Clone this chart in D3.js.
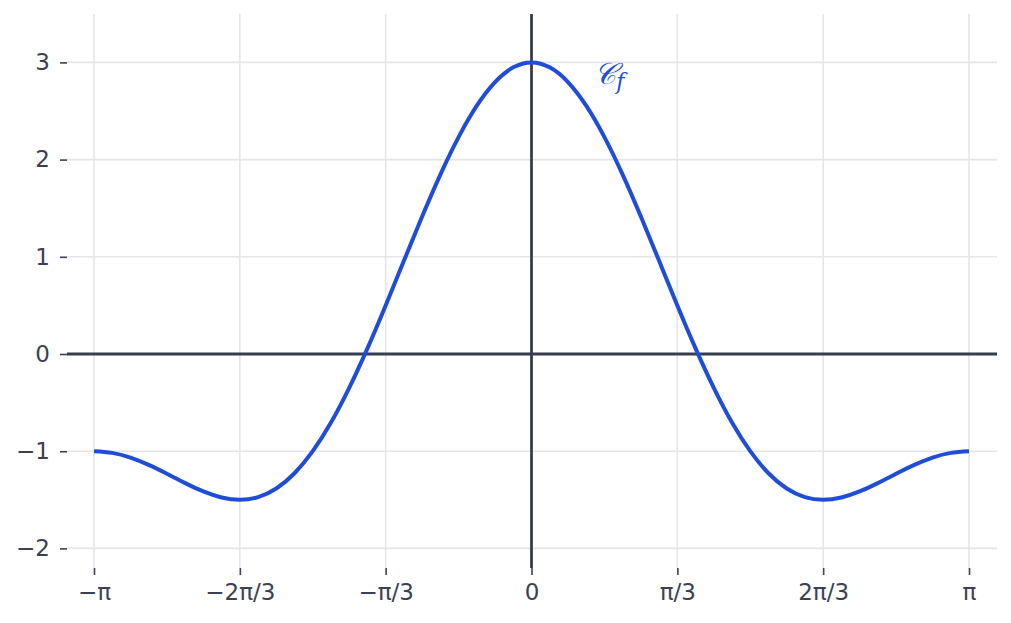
<!DOCTYPE html>
<html>
  <head>
    <meta charset="utf-8">
    <title></title>
    <style>
      body { margin: 0; background: #fff; }
      text { font-family: "DejaVu Sans", sans-serif; }
    </style>
  </head>
  <body>
    <div id="chart"></div>
    <script src="https://d3js.org/d3.v7.min.js"></script>
    <script>
      const width = 1011;
      const height = 623;

      // x tick positions (radians) and their labels
      const xTickValues = [-Math.PI, -2 * Math.PI / 3, -Math.PI / 3, 0, Math.PI / 3, 2 * Math.PI / 3, Math.PI];
      const xTickLabels = ['−π', '−2π/3', '−π/3', '0', 'π/3', '2π/3', 'π'];
      const yTickValues = [-2, -1, 0, 1, 2, 3];

      // curve points
      const curveX = [-3.1416, -3.0107, -2.8798, -2.7489, -2.618, -2.4871, -2.3562, -2.2253, -2.0944, -1.9635, -1.8326, -1.7017,
                      -1.5708, -1.4399, -1.309, -1.1781, -1.0472, -0.9163, -0.7854, -0.6545, -0.5236, -0.3927, -0.2618, -0.1309,
                      0, 0.1309, 0.2618, 0.3927, 0.5236, 0.6545, 0.7854, 0.9163, 1.0472, 1.1781, 1.309, 1.4399,
                      1.5708, 1.7017, 1.8326, 1.9635, 2.0944, 2.2253, 2.3562, 2.4871, 2.618, 2.7489, 2.8798, 3.0107, 3.1416];
      const curveY = [-1, -1.017, -1.066, -1.141, -1.232, -1.328, -1.414, -1.476, -1.5, -1.473, -1.384, -1.227,
                      -1, -0.705, -0.348, 0.058, 0.5, 0.959, 1.414, 1.846, 2.232, 2.555, 2.798, 2.949,
                      3, 2.949, 2.798, 2.555, 2.232, 1.846, 1.414, 0.959, 0.5, 0.058, -0.348, -0.705,
                      -1, -1.227, -1.384, -1.473, -1.5, -1.476, -1.414, -1.328, -1.232, -1.141, -1.066, -1.017, -1];

      const plotLeft = 67, plotRight = 997, plotTop = 14, plotBottom = 568;

      const x = d3.scaleLinear().domain([-3.3355, 3.3427]).range([plotLeft, plotRight]);
      const y = d3.scaleLinear().domain([-2.2016, 3.498]).range([plotBottom, plotTop]);

      const svg = d3.select('#chart').append('svg')
        .attr('width', width)
        .attr('height', height);

      // grid
      svg.append('g').selectAll('line').data(xTickValues).enter().append('line')
        .attr('x1', d => x(d)).attr('x2', d => x(d))
        .attr('y1', plotTop).attr('y2', plotBottom)
        .attr('stroke', '#e6e6ea').attr('stroke-width', 1.6);
      svg.append('g').selectAll('line').data(yTickValues).enter().append('line')
        .attr('x1', plotLeft).attr('x2', plotRight)
        .attr('y1', d => y(d)).attr('y2', d => y(d))
        .attr('stroke', '#e6e6ea').attr('stroke-width', 1.6);

      // axes
      const xAxis = svg.append('g')
        .attr('transform', `translate(0,${plotBottom})`)
        .call(d3.axisBottom(x).tickValues(xTickValues).tickFormat((d, i) => xTickLabels[i]).tickSize(7).tickPadding(9));
      const yAxis = svg.append('g')
        .attr('transform', `translate(${plotLeft},0)`)
        .call(d3.axisLeft(y).tickValues(yTickValues).tickFormat(d => d < 0 ? '−' + Math.abs(d) : d).tickSize(7).tickPadding(10));

      [xAxis, yAxis].forEach(a => {
        a.select('.domain').remove();
        a.selectAll('.tick line').attr('stroke', '#3b4152').attr('stroke-width', 1.6);
        a.selectAll('.tick text').attr('fill', '#3b4152').style('font-size', '23px');
      });

      // zero lines
      svg.append('line')
        .attr('x1', plotLeft).attr('x2', plotRight)
        .attr('y1', y(0)).attr('y2', y(0))
        .attr('stroke', '#363d4f').attr('stroke-width', 2.8);
      svg.append('line')
        .attr('x1', x(0)).attr('x2', x(0))
        .attr('y1', plotTop).attr('y2', plotBottom)
        .attr('stroke', '#363d4f').attr('stroke-width', 2.8);

      // curve
      const line = d3.line()
        .x((d, i) => x(curveX[i]))
        .y(d => y(d))
        .curve(d3.curveNatural);

      svg.append('path')
        .datum(curveY)
        .attr('d', line)
        .attr('fill', 'none')
        .attr('stroke', '#1f4dd8')
        .attr('stroke-width', 4);

      // label
      const lab = svg.append('text')
        .attr('x', x(0.45))
        .attr('y', y(2.78))
        .attr('fill', '#1f4dd8')
        .style('font-family', '"DejaVu Serif", serif')
        .style('font-style', 'italic')
        .style('font-size', '30px');
      lab.append('tspan').text('𝒞');
      lab.append('tspan').attr('dy', 5).style('font-size', '22px').text('f');
    </script>
  </body>
</html>
